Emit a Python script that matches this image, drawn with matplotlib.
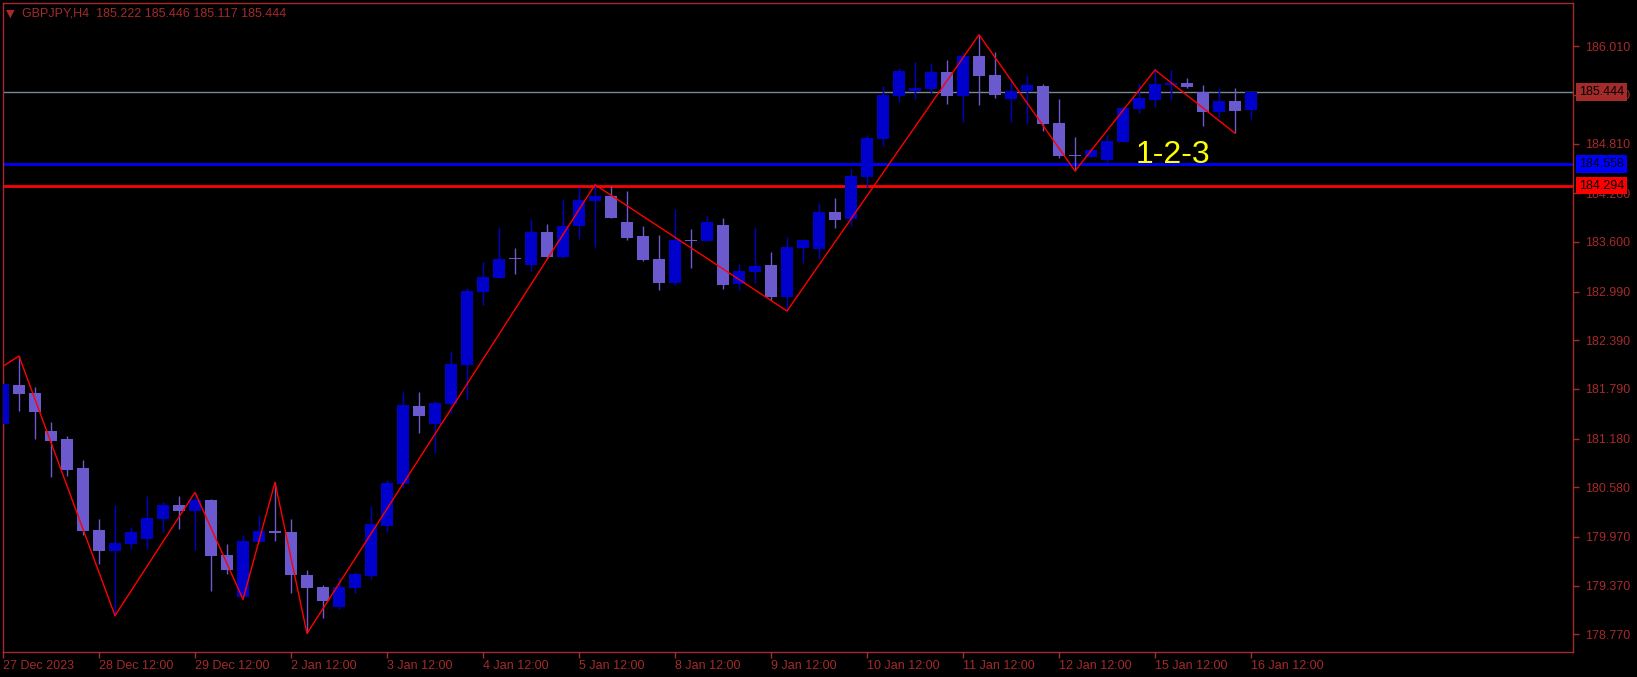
import numpy as np
import matplotlib.pyplot as plt
from matplotlib.transforms import blended_transform_factory

# GBPJPY H4 bars, 27 Dec 2023 12:00 .. 16 Jan 2024 12:00
opens = [181.363, 181.839, 181.740, 181.273, 181.174, 180.817, 180.054, 179.800, 179.886, 179.943,
         180.189, 180.362, 180.288, 180.423, 179.746, 179.233, 179.910, 180.042, 180.029, 179.500,
         179.352, 179.106, 179.344, 179.492, 180.108, 180.625, 181.581, 181.363, 181.609, 182.085,
         182.988, 183.160, 183.398, 183.316, 183.723, 183.415, 183.801, 184.104, 184.166, 183.846,
         183.673, 183.390, 183.095, 183.620, 183.612, 183.809, 183.082, 183.230, 183.316, 182.922,
         183.526, 183.513, 183.969, 183.883, 184.404, 184.864, 185.402, 185.455, 185.484, 185.693,
         185.397, 185.890, 185.656, 185.360, 185.455, 185.521, 185.065, 184.667, 184.651, 184.614,
         184.835, 185.237, 185.352, 185.532, 185.557, 185.442, 185.204, 185.335, 185.222]
highs = [181.942, 182.196, 181.814, 181.383, 181.211, 180.916, 180.189, 180.362, 180.095, 180.477,
         180.395, 180.473, 180.518, 180.436, 179.882, 179.992, 180.239, 180.641, 180.189, 179.562,
         179.377, 179.476, 179.541, 180.350, 180.666, 181.753, 181.753, 181.638, 182.258, 183.029,
         183.353, 183.784, 183.526, 183.883, 183.821, 184.129, 184.281, 184.305, 184.290, 184.227,
         183.796, 183.686, 184.006, 183.759, 183.920, 183.895, 183.329, 183.784, 183.476, 183.661,
         183.636, 184.080, 184.141, 184.498, 184.920, 185.521, 185.746, 185.816, 185.808, 185.841,
         185.935, 186.152, 185.935, 185.615, 185.656, 185.545, 185.361, 184.893, 184.761, 184.917,
         185.274, 185.553, 185.737, 185.717, 185.618, 185.532, 185.495, 185.495, 185.446]
lows = [181.174, 181.523, 181.174, 180.711, 180.723, 179.997, 179.635, 178.999, 179.824, 179.820,
        180.029, 180.066, 179.808, 179.307, 179.516, 179.200, 179.910, 179.923, 179.283, 178.780,
        178.967, 179.078, 179.283, 179.447, 180.034, 180.567, 181.252, 181.006, 181.490, 181.667,
        182.828, 183.160, 183.206, 183.243, 183.390, 183.407, 183.636, 183.538, 183.895, 183.624,
        183.360, 183.009, 183.070, 183.279, 183.612, 183.021, 183.009, 183.095, 182.885, 182.750,
        183.341, 183.390, 183.772, 183.796, 184.281, 184.782, 185.328, 185.357, 185.438, 185.303,
        185.081, 185.287, 185.369, 185.077, 185.049, 184.971, 184.634, 184.474, 184.642, 184.577,
        184.835, 185.192, 185.266, 185.348, 185.500, 185.032, 185.142, 184.937, 185.117]
closes = [181.851, 181.732, 181.511, 181.154, 180.797, 180.046, 179.800, 179.894, 180.029, 180.202,
          180.362, 180.288, 180.423, 179.738, 179.566, 179.919, 180.042, 180.021, 179.500, 179.344,
          179.184, 179.352, 179.512, 180.128, 180.633, 181.589, 181.462, 181.617, 182.098, 182.996,
          183.169, 183.390, 183.386, 183.723, 183.415, 183.796, 184.116, 184.166, 183.895, 183.649,
          183.378, 183.095, 183.624, 183.612, 183.846, 183.070, 183.242, 183.304, 182.922, 183.538,
          183.624, 183.969, 183.870, 184.412, 184.880, 185.410, 185.705, 185.496, 185.697, 185.397,
          185.890, 185.648, 185.410, 185.459, 185.533, 185.053, 184.659, 184.655, 184.733, 184.844,
          185.250, 185.376, 185.545, 185.557, 185.512, 185.200, 185.331, 185.212, 185.444]

# zigzag pivots (bar index, price)
zz_bars = [0, 1, 7, 12, 15, 17, 19, 37, 49, 61, 67, 72, 77]
zz_prices = [182.07, 182.196, 178.999, 180.518, 179.200, 180.641, 178.780, 184.305, 182.750,
             186.152, 184.474, 185.718, 184.938]

price_ticks = [186.010, 185.410, 184.810, 184.200, 183.600, 182.990, 182.390, 181.790,
               181.180, 180.580, 179.970, 179.370, 178.770]
time_ticks = [0, 6, 12, 18, 24, 30, 36, 42, 48, 54, 60, 66, 72, 78]
time_labels = ['27 Dec 2023', '28 Dec 12:00', '29 Dec 12:00', '2 Jan 12:00', '3 Jan 12:00',
               '4 Jan 12:00', '5 Jan 12:00', '8 Jan 12:00', '9 Jan 12:00', '10 Jan 12:00',
               '11 Jan 12:00', '12 Jan 12:00', '15 Jan 12:00', '16 Jan 12:00']

bid = 185.444
level_blue = 184.558
level_red = 184.294

fg = '#A52A2A'
bull = '#0000CD'
bear = '#6A5ACD'
plt.rcParams['font.family'] = ['Liberation Sans', 'DejaVu Sans']

W, H = 1637, 677
fig = plt.figure(figsize=(W / 100, H / 100), dpi=100, facecolor='black')
ax = fig.add_axes([3 / W, 25 / H, 1570 / W, 649 / H], facecolor='black')

o = np.array(opens); h = np.array(highs); l = np.array(lows); c = np.array(closes)
x = np.arange(len(o))
up = c >= o
cols = np.where(up, bull, bear)

# levels
ax.axhline(bid, color='#778899', lw=1, zorder=1)
ax.axhline(level_blue, color='#0000FF', lw=2, zorder=1)
ax.axhline(level_red, color='#FF0000', lw=2, zorder=1)

# candles
ax.vlines(x, l, h, colors=cols, lw=1, zorder=2)
body_lo = np.minimum(o, c)
body_h = np.maximum(np.abs(c - o), 0.014)
ax.bar(x, body_h, bottom=body_lo, width=0.69, color=cols, linewidth=0, zorder=3)

# zigzag
ax.plot(zz_bars, zz_prices, color='#FF0000', lw=1, zorder=4)

ax.text(70.8, 184.576, '1-2-3', color='#FFFF00', fontsize=23, va='baseline', ha='left', zorder=5)

ax.set_xlim(0, 1570 / 16)
ax.set_ylim(178.552, 186.542)

for s in ax.spines.values():
    s.set_color(fg)
    s.set_linewidth(1)

ax.yaxis.tick_right()
ax.set_yticks(price_ticks)
ax.set_yticklabels([f'{v:.3f}' for v in price_ticks])
ax.set_xticks(time_ticks)
ax.set_xticklabels(time_labels)
ax.tick_params(axis='y', colors=fg, length=4, width=1, pad=5, labelsize=9)
ax.tick_params(axis='x', colors=fg, length=4, width=1, pad=2, labelsize=9)
plt.setp(ax.get_xticklabels(), ha='left')

# price boxes on the right scale (they sit over the scale labels, as in the terminal)
tr = blended_transform_factory(ax.transAxes, ax.transData)
for val, bg in [(bid, fg), (level_blue, '#0000FF'), (level_red, '#FF0000')]:
    ax.text(1 + 6 / 1570, val, f'{val:.3f}', transform=tr, color='black', fontsize=9,
            va='center', ha='left', clip_on=False, zorder=6,
            bbox=dict(boxstyle='square,pad=0.22', facecolor=bg, edgecolor='none'))

fig.text(22 / W, (H - 17) / H, 'GBPJPY,H4  185.222 185.446 185.117 185.444', color=fg,
         fontsize=9, va='baseline', ha='left')
fig.text(6 / W, (H - 17) / H, '▼', color=fg, fontsize=8, va='baseline', ha='left',
         family='DejaVu Sans')

fig.savefig('out.png', dpi=100, facecolor='black')
